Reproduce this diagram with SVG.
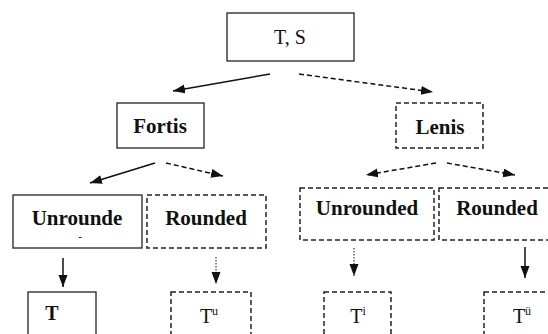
<svg xmlns="http://www.w3.org/2000/svg" width="548" height="334" viewBox="0 0 548 334">
<style>
.box{fill:#fff;stroke:#222;stroke-width:1.3}
.dbox{fill:#fff;stroke:#222;stroke-width:1.5;stroke-dasharray:5 3}
.lbl{font-family:"Liberation Serif","Times New Roman",serif;font-weight:bold;font-size:21px;fill:#111;text-anchor:middle}
.reg{font-family:"Liberation Serif","Times New Roman",serif;font-size:20px;fill:#111;text-anchor:middle}
.sol{stroke:#111;stroke-width:1.5;fill:none;marker-end:url(#ah)}
.dash{stroke:#111;stroke-width:1.5;fill:none;stroke-dasharray:5 3;marker-end:url(#ah)}
.dot{stroke:#111;stroke-width:1;fill:none;stroke-dasharray:1.5 1.5;marker-end:url(#ah)}
</style>
<defs>
<marker id="ah" markerUnits="userSpaceOnUse" markerWidth="13" markerHeight="10" refX="12" refY="4.5" orient="auto">
<path d="M0,0 L12,4.5 L0,9 z" fill="#111"/>
</marker>
</defs>
<rect width="548" height="334" fill="#fff"/>
<g id="connectors">
<line class="sol" x1="270" y1="74" x2="173" y2="91"/>
<line class="dash" x1="299" y1="74" x2="433" y2="92"/>
<line class="sol" x1="155" y1="163" x2="90" y2="183"/>
<line class="dash" x1="166" y1="163" x2="223" y2="176"/>
<line class="dash" x1="436" y1="163" x2="366" y2="175"/>
<line class="dash" x1="447" y1="163" x2="515" y2="175"/>
<line class="sol" x1="63" y1="258" x2="63" y2="287"/>
<line class="dot" x1="216" y1="257" x2="216" y2="284"/>
<line class="dot" x1="354" y1="248" x2="354" y2="276"/>
<line class="sol" x1="525" y1="247" x2="525" y2="278"/>
</g>
<g id="ts"><rect class="box" x="227" y="13" width="127" height="48"/><text class="reg" x="290" y="44">T, S</text></g>
<g id="fortis"><rect class="box" x="117" y="103" width="87" height="45"/><text class="lbl" x="160" y="133">Fortis</text></g>
<g id="lenis"><rect class="dbox" x="396" y="103" width="87" height="45"/><text class="lbl" x="440" y="134">Lenis</text></g>
<g id="unrounde"><rect class="box" x="13" y="195" width="129" height="53"/><text class="lbl" x="77" y="225">Unrounde</text><text class="lbl" x="80" y="240" style="font-size:11px">-</text></g>
<g id="rounded-l"><rect class="dbox" x="147" y="195" width="119" height="53"/><text class="lbl" x="206" y="225">Rounded</text></g>
<g id="unrounded-r"><rect class="dbox" x="300" y="188" width="134" height="52"/><text class="lbl" x="367" y="215">Unrounded</text></g>
<g id="rounded-r"><rect class="dbox" x="439" y="188" width="122" height="52"/><text class="lbl" x="497" y="215">Rounded</text></g>
<g id="t"><rect class="box" x="28" y="292" width="68" height="50"/><text class="lbl" x="52" y="320" style="font-size:20px">T</text></g>
<g id="tu"><rect class="dbox" x="171" y="292" width="80" height="50"/><text class="reg" x="209" y="323">T<tspan font-size="12" dy="-8">u</tspan></text></g>
<g id="ti"><rect class="dbox" x="324" y="292" width="67" height="50"/><text class="reg" x="358" y="323">T<tspan font-size="12" dy="-8">i</tspan></text></g>
<g id="tue"><rect class="dbox" x="484" y="292" width="76" height="50"/><text class="reg" x="522" y="323">T<tspan font-size="12" dy="-8">ü</tspan></text></g>
</svg>
